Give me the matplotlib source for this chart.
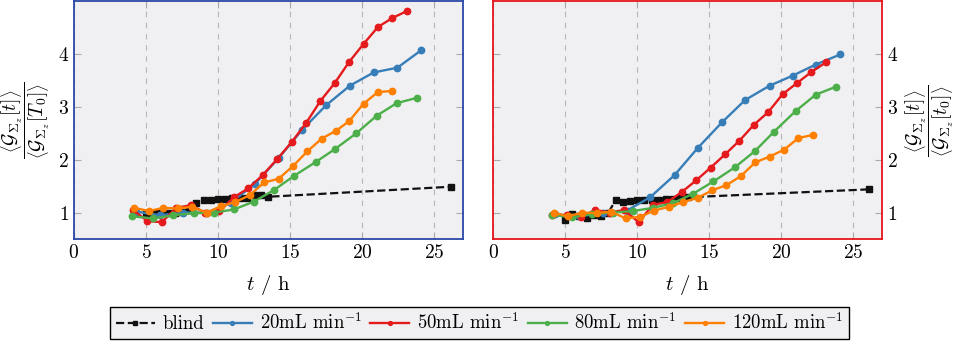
import matplotlib
matplotlib.use("Agg")
import matplotlib.pyplot as plt

plt.rcParams['font.family'] = 'serif'
plt.rcParams['font.serif'] = ['cmr10', 'DejaVu Serif']
plt.rcParams['mathtext.fontset'] = 'cm'
plt.rcParams['axes.formatter.use_mathtext'] = True
plt.rcParams['font.size'] = 13.5

# ---- left panel data ----
L_blind_t = [5.0, 5.5, 6.0, 6.5, 7.0, 7.5, 8.0, 8.5, 9.0, 9.5, 10.0, 10.5, 11.0, 11.5, 12.0, 12.5, 13.0, 13.5, 26.2]
L_blind_y = [1.0, 1.0, 1.0, 1.0, 1.0, 1.02, 1.05, 1.18, 1.23, 1.23, 1.25, 1.25, 1.27, 1.28, 1.28, 1.33, 1.33, 1.30, 1.49]

L_20_t = [4.3, 5.95, 7.6, 9.25, 10.9, 12.55, 14.2, 15.85, 17.5, 19.15, 20.8, 22.45, 24.1]
L_20_y = [1.02, 0.95, 1.0, 1.0, 1.19, 1.54, 2.03, 2.57, 3.03, 3.40, 3.65, 3.74, 4.07]

L_50_t = [4.1, 5.1, 6.1, 7.1, 8.1, 9.1, 10.1, 11.1, 12.1, 13.1, 14.1, 15.1, 16.1, 17.1, 18.1, 19.1, 20.1, 21.1, 22.1, 23.1]
L_50_y = [1.05, 0.84, 0.82, 1.09, 1.14, 1.0, 1.03, 1.29, 1.46, 1.71, 2.01, 2.33, 2.69, 3.11, 3.45, 3.85, 4.19, 4.51, 4.68, 4.81]

L_80_t = [4.05, 5.5, 6.9, 8.3, 9.7, 11.1, 12.5, 13.9, 15.3, 16.8, 18.1, 19.6, 21.0, 22.4, 23.8]
L_80_y = [0.93, 0.89, 0.95, 0.99, 1.0, 1.06, 1.21, 1.43, 1.70, 1.96, 2.20, 2.50, 2.83, 3.07, 3.17]

L_120_t = [4.2, 5.2, 6.2, 7.2, 8.2, 9.2, 10.2, 11.2, 12.2, 13.2, 14.2, 15.2, 16.2, 17.2, 18.2, 19.1, 20.1, 21.1, 22.1]
L_120_y = [1.09, 1.03, 1.09, 1.08, 1.11, 1.0, 1.12, 1.2, 1.33, 1.57, 1.64, 1.88, 2.16, 2.40, 2.55, 2.73, 3.06, 3.28, 3.30]

# ---- right panel data ----
R_blind_t = [5.0, 5.5, 6.0, 6.5, 7.0, 7.5, 8.0, 8.5, 9.0, 9.5, 10.0, 10.5, 11.0, 11.5, 12.0, 12.5, 13.0, 13.5, 26.1]
R_blind_y = [0.87, 0.97, 0.93, 0.90, 0.95, 0.94, 1.0, 1.23, 1.2, 1.22, 1.23, 1.23, 1.23, 1.23, 1.25, 1.25, 1.28, 1.29, 1.44]

R_20_t = [4.3, 5.98, 7.6, 9.3, 10.9, 12.6, 14.2, 15.9, 17.5, 19.2, 20.8, 22.4, 24.1]
R_20_y = [0.97, 0.93, 0.99, 1.04, 1.29, 1.71, 2.22, 2.71, 3.13, 3.40, 3.59, 3.80, 3.99]

R_50_t = [4.1, 5.1, 6.1, 7.1, 8.1, 9.1, 10.1, 11.1, 12.1, 13.1, 14.1, 15.1, 16.1, 17.1, 18.1, 19.1, 20.1, 21.1, 22.1, 23.1]
R_50_y = [0.96, 0.95, 0.92, 1.05, 1.0, 1.05, 0.82, 1.15, 1.2, 1.39, 1.61, 1.85, 2.10, 2.36, 2.66, 2.90, 3.24, 3.45, 3.66, 3.84]

R_80_t = [4.06, 5.5, 6.9, 8.3, 9.7, 11.1, 12.5, 13.9, 15.3, 16.8, 18.2, 19.5, 21.0, 22.4, 23.8]
R_80_y = [0.96, 0.91, 0.98, 1.0, 1.03, 1.09, 1.18, 1.36, 1.59, 1.86, 2.17, 2.53, 2.92, 3.23, 3.38]

R_120_t = [4.2, 5.2, 6.2, 7.2, 8.2, 9.2, 10.2, 11.2, 12.2, 13.2, 14.2, 15.2, 16.2, 17.2, 18.2, 19.2, 20.2, 21.2, 22.2]
R_120_y = [1.0, 0.93, 1.0, 0.99, 1.02, 0.89, 0.92, 1.04, 1.11, 1.20, 1.28, 1.42, 1.52, 1.69, 1.95, 2.06, 2.19, 2.41, 2.47]

labels = ['blind', r'20mL min$^{-1}$', r'50mL min$^{-1}$', r'80mL min$^{-1}$', r'120mL min$^{-1}$']
colors = ['#111111', '#377eb8', '#e41a1c', '#4daf4a', '#ff7f00']

fig = plt.figure(figsize=(9.57, 3.48), dpi=100)
axL = fig.add_axes([0.0773, 0.313, 0.4065, 0.684])
axR = fig.add_axes([0.5152, 0.313, 0.4065, 0.684])

def draw(ax, series, spine_color):
    ax.set_facecolor('#f0f0f2')
    for i, (t, y) in enumerate(series):
        if i == 0:
            ax.plot(t, y, '--', color=colors[0], lw=1.6, marker='s', ms=4.8, label=labels[0], zorder=1)
        else:
            ax.plot(t, y, '-', color=colors[i], lw=1.7, marker='o', ms=4.6, label=labels[i], zorder=2)
    ax.set_xlim(0, 27)
    ax.set_ylim(0.5, 5.0)
    ax.set_xticks([0, 5, 10, 15, 20, 25])
    ax.set_yticks([1, 2, 3, 4])
    ax.grid(axis='x', color='#b8b8b8', ls=(0, (5, 5)), lw=0.8)
    ax.set_axisbelow(True)
    ax.tick_params(direction='in', color='#aaaaaa', length=5, top=True, right=True, labelsize=14)
    for s in ax.spines.values():
        s.set_color(spine_color)
        s.set_linewidth(1.3)
    ax.set_xlabel(r'$t$ / h', fontsize=15, labelpad=8)

draw(axL, [(L_blind_t, L_blind_y), (L_20_t, L_20_y), (L_50_t, L_50_y), (L_80_t, L_80_y), (L_120_t, L_120_y)], '#2a48a6')
draw(axR, [(R_blind_t, R_blind_y), (R_20_t, R_20_y), (R_50_t, R_50_y), (R_80_t, R_80_y), (R_120_t, R_120_y)], '#e8141c')

axL.set_ylabel(r'$\dfrac{\left\langle \mathcal{G}_{\Sigma_z}[t] \right\rangle}{\left\langle \mathcal{G}_{\Sigma_z}[T_0] \right\rangle}$', fontsize=14, labelpad=4)
axR.yaxis.tick_right()
axR.tick_params(left=True, labelleft=False, labelright=True)
axR.yaxis.set_label_position('right')
axR.set_ylabel(r'$\dfrac{\left\langle \mathcal{G}_{\Sigma_z}[t] \right\rangle}{\left\langle \mathcal{G}_{\Sigma_z}[t_0] \right\rangle}$', fontsize=14, labelpad=4, rotation=90)

handles, labs = axL.get_legend_handles_labels()
leg = fig.legend(handles, labs, loc='center', bbox_to_anchor=(0.501, 0.072), ncol=5, fontsize=13.5,
                 frameon=True, fancybox=False, edgecolor='black', facecolor='#f0f0f2',
                 handlelength=2.1, handletextpad=0.4, columnspacing=0.45, borderpad=0.3, markerscale=0.6)
leg.get_frame().set_linewidth(1.0)
leg.get_frame().set_alpha(1)

fig.savefig('out.png', dpi=100)
